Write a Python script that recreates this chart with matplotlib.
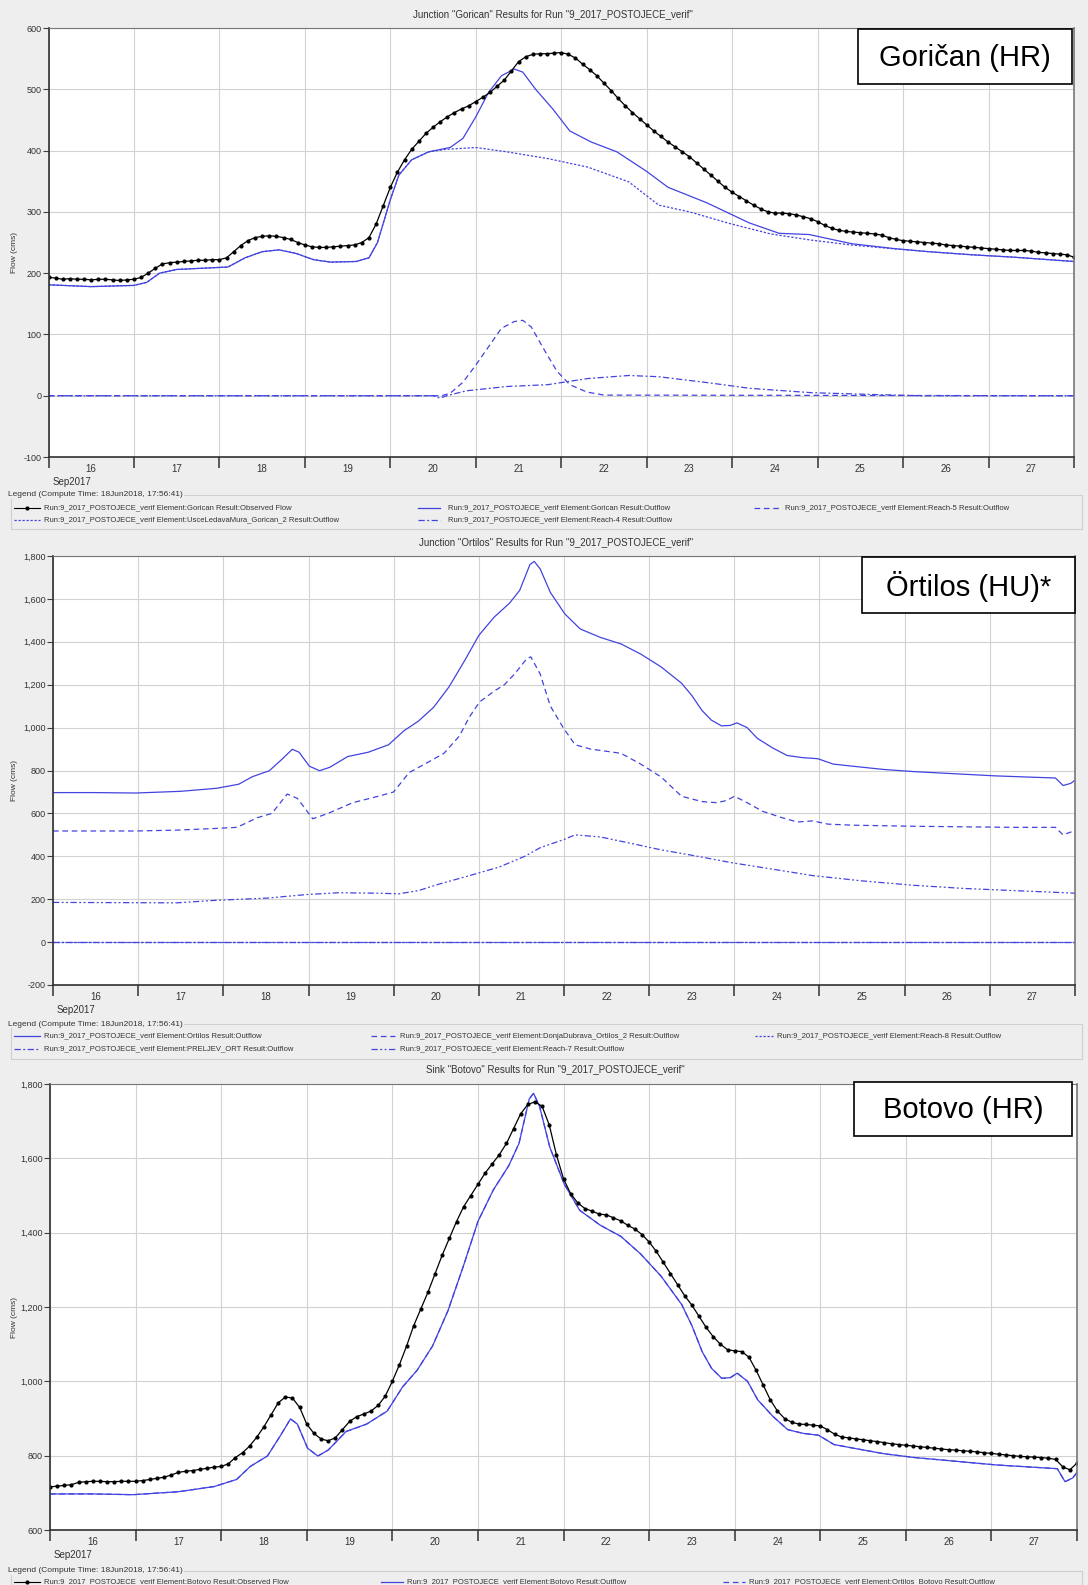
import numpy as np
import matplotlib
matplotlib.use('Agg')
import matplotlib.pyplot as plt
from matplotlib.lines import Line2D
from matplotlib.patches import Rectangle
from matplotlib.ticker import FuncFormatter

plt.rcParams['font.family'] = ['Liberation Sans', 'DejaVu Sans']

# ---------------- data ----------------
day_labels = ['16', '17', '18', '19', '20', '21', '22', '23', '24', '25', '26', '27']
month_label = 'Sep2017'
run = 'Run:9_2017_POSTOJECE_verif'

# observed series are 2-hourly, starting 16 Sep 00:00 (x in days)
obs_step = 1.0 / 12.0

gorican_obs = [
    193, 192, 190, 191, 190, 190, 189, 190, 190, 189, 188, 189,
    190, 193, 200, 208, 215, 217, 218, 219, 220, 221, 221, 222,
    222, 225, 235, 245, 253, 258, 260, 261, 260, 258, 255, 250,
    246, 243, 242, 242, 243, 244, 245, 246, 250, 258, 280, 310,
    340, 365, 385, 402, 415, 428, 438, 447, 455, 462, 468, 473,
    480, 487, 495, 505, 515, 530, 545, 553, 557, 558, 558, 559,
    560, 557, 551, 541, 532, 522, 510, 498, 485, 473, 462, 452,
    442, 432, 423, 414, 406, 398, 390, 380, 370, 360, 350, 340,
    332, 325, 318, 311, 305, 300, 298, 298, 297, 295, 292, 289,
    284, 278, 273, 270, 268, 267, 266, 265, 264, 262, 258, 255,
    253, 252, 251, 250, 249, 248, 246, 245, 244, 243, 242, 241,
    240, 239, 238, 237, 237, 237, 236, 234, 233, 232, 231, 230,
    226]

gorican_out_t = [0, 0.5, 1.0, 1.15, 1.3, 1.5, 1.8, 2.1, 2.3, 2.5, 2.7, 2.9, 3.1, 3.3, 3.6,
                 3.75, 3.85, 4.0, 4.1, 4.25, 4.45, 4.7, 4.85, 5.0, 5.15, 5.3, 5.45, 5.55,
                 5.7, 5.9, 6.1, 6.35, 6.65, 7.0, 7.25, 7.7, 8.2, 8.55, 8.9, 9.4, 9.9, 10.3,
                 10.8, 11.3, 11.7, 12.0]
gorican_out_v = [181, 178, 180, 185, 200, 206, 208, 210, 225, 235, 238, 232, 222, 218, 219,
                 225, 250, 320, 360, 385, 398, 405, 420, 455, 495, 522, 533, 528,
                 500, 468, 432, 414, 398, 366, 340, 315, 282, 265, 263, 248, 240, 235,
                 230, 226, 222, 219]

usce_t = [0, 0.5, 1.0, 1.15, 1.3, 1.5, 1.8, 2.1, 2.3, 2.5, 2.7, 2.9, 3.1, 3.3, 3.6,
          3.75, 3.85, 4.0, 4.1, 4.25, 4.45, 4.65, 5.0, 5.36, 5.84, 6.31, 6.79, 7.14, 7.5,
          7.97, 8.45, 8.92, 9.39, 9.87, 10.3, 10.8, 11.3, 11.7, 12.0]
usce_v = [181, 178, 180, 185, 200, 206, 208, 210, 225, 235, 238, 232, 222, 218, 219,
          225, 250, 320, 360, 385, 398, 402, 405, 398, 387, 373, 349, 311, 300,
          281, 264, 254, 246, 240, 235, 230, 226, 222, 219]

reach5_t = [0, 4.6, 4.7, 4.85, 5.0, 5.15, 5.3, 5.45, 5.55, 5.65, 5.8, 5.95, 6.1, 6.3, 6.5, 12.0]
reach5_v = [0, 0, 4, 22, 50, 80, 110, 121, 123, 112, 75, 40, 18, 6, 1, 0]

reach4_t = [0, 4.5, 4.58, 4.66, 4.89, 5.36, 5.84, 6.31, 6.79, 7.14, 7.73, 8.21, 8.92, 9.63, 10.2, 12.0]
reach4_v = [0, 0, -4, 0, 8, 15, 18, 28, 33, 31, 21, 12, 5, 2, 0, 0]

ortilos_t = [0, 0.5, 0.97, 1.5, 1.92, 2.18, 2.34, 2.54, 2.69, 2.81, 2.89, 3.01, 3.13, 3.25,
             3.46, 3.70, 3.94, 4.12, 4.29, 4.47, 4.65, 4.83, 5.0, 5.18, 5.36, 5.48, 5.60,
             5.65, 5.72, 5.84, 6.01, 6.19, 6.43, 6.67, 6.90, 7.14, 7.38, 7.50, 7.62, 7.73,
             7.85, 7.95, 8.03, 8.15, 8.27, 8.45, 8.62, 8.80, 8.98, 9.16, 9.39, 9.75, 10.1,
             10.58, 11.06, 11.41, 11.77, 11.86, 11.95, 12.0]
ortilos_v = [697, 697, 695, 703, 717, 736, 771, 799, 853, 899, 885, 820, 799, 815,
             865, 885, 920, 985, 1030, 1095, 1190, 1310, 1430, 1515, 1580, 1640, 1760,
             1775, 1740, 1630, 1530, 1460, 1420, 1390, 1343, 1283, 1207, 1150, 1080, 1035,
             1008, 1010, 1022, 1000, 950, 905, 870, 860, 855, 830, 820, 805, 795,
             785, 775, 770, 765, 730, 740, 755]

donja_t = [0, 0.97, 1.45, 1.92, 2.16, 2.40, 2.57, 2.75, 2.87, 3.05, 3.23, 3.52, 3.82, 4.0,
           4.18, 4.41, 4.59, 4.77, 4.89, 5.01, 5.18, 5.30, 5.42, 5.56, 5.61, 5.72, 5.84,
           5.99, 6.13, 6.31, 6.67, 6.90, 7.14, 7.38, 7.62, 7.79, 7.91, 8.0, 8.15, 8.33,
           8.56, 8.74, 8.92, 9.10, 9.39, 10.1, 11.29, 11.77, 11.86, 12.0]
donja_v = [518, 518, 522, 530, 535, 580, 600, 690, 670, 575, 600, 650, 680, 700,
           790, 840, 880, 960, 1050, 1120, 1170, 1200, 1250, 1320, 1330, 1250, 1100,
           1000, 920, 900, 880, 830, 770, 680, 655, 650, 660, 680, 650, 610,
           580, 560, 565, 550, 545, 540, 535, 535, 500, 520]

reach7_t = [0, 1.45, 1.92, 2.51, 2.99, 3.35, 3.82, 4.06, 4.29, 4.53, 4.89, 5.24, 5.54, 5.72,
            6.01, 6.13, 6.43, 6.79, 7.14, 7.5, 7.97, 8.45, 8.92, 9.51, 10.1, 10.7, 11.29,
            11.77, 12.0]
reach7_v = [185, 183, 195, 205, 222, 230, 228, 225, 240, 270, 310, 350, 400, 440,
            480, 500, 490, 460, 430, 405, 370, 340, 310, 285, 265, 250, 240,
            232, 228]

reach8_t = [0, 12.0]
reach8_v = [0, 0]
preljev_t = [0, 12.0]
preljev_v = [0, 0]

botovo_obs = [
    716, 718, 720, 722, 728, 730, 731, 731, 730, 730, 731, 731,
    731, 733, 736, 739, 742, 748, 755, 758, 760, 763, 766, 769,
    771, 778, 795, 808, 826, 850, 878, 910, 942, 958, 955, 930,
    885, 860, 845, 840, 848, 870, 892, 905, 912, 920, 935, 960,
    1000, 1045, 1095, 1150, 1195, 1240, 1290, 1340, 1385, 1430, 1470, 1500,
    1530, 1560, 1585, 1610, 1640, 1680, 1720, 1745, 1752, 1740, 1690, 1610,
    1545, 1505, 1480, 1465, 1458, 1450, 1448, 1440, 1432, 1420, 1410, 1395,
    1375, 1350, 1320, 1290, 1260, 1230, 1205, 1175, 1145, 1120, 1100, 1085,
    1082, 1080, 1065, 1030, 990, 950, 920, 900, 890, 885, 884, 882,
    880, 870, 858, 850, 848, 845, 843, 840, 838, 835, 832, 830,
    828, 826, 824, 822, 820, 818, 816, 815, 813, 812, 810, 808,
    806, 804, 802, 800, 798, 797, 796, 795, 793, 790, 770, 762,
    780]
botovo_out_t = ortilos_t
botovo_out_v = ortilos_v
ortilos_botovo_t = ortilos_t
ortilos_botovo_v = ortilos_v

# ---------------- style ----------------
W, H = 1088, 1585
BG = '#eeeeee'
BLUE = '#4343e0'
LW = 0.9
DASH = (0, (4.5, 3))
DOT = (0, (1.8, 1.4))
DASHDOT = (0, (5, 2, 1.5, 2))
DASHDOTDOT = (0, (5, 2, 1.5, 2, 1.5, 2))
MS = 2.0

fig = plt.figure(figsize=(W / 100, H / 100), dpi=100, facecolor=BG)


def make_axes(l, r, t, b, ymin, ymax, ystep):
    ax = fig.add_axes([l / W, 1 - b / H, (r - l) / W, (b - t) / H])
    ax.set_facecolor('white')
    ax.set_xlim(0, 12)
    ax.set_ylim(ymin, ymax)
    ax.set_xticks(range(13))
    ax.set_xticklabels([])
    ax.set_xticks(np.arange(12) + 0.5, minor=True)
    ax.set_xticklabels(day_labels, minor=True)
    ax.set_yticks(np.arange(ymin, ymax + 1, ystep))
    ax.yaxis.set_major_formatter(FuncFormatter(lambda v, p: f'{v:,.0f}'))
    ax.tick_params(axis='x', which='major', length=8, width=1.2, color='#404040', direction='out')
    ax.tick_params(axis='x', which='minor', length=0, pad=5, labelsize=7, labelcolor='#333333')
    ax.tick_params(axis='y', which='major', length=4, width=0.8, color='#404040', pad=1,
                   labelsize=6.5, labelcolor='#333333')
    ax.grid(True, which='major', color='#d2d2d2', lw=0.8)
    ax.set_axisbelow(True)
    for s in ['left', 'bottom']:
        ax.spines[s].set_color('#303030')
        ax.spines[s].set_linewidth(1.2)
    ax.spines['top'].set_color('#777777')
    ax.spines['top'].set_linewidth(0.8)
    ax.spines['right'].set_color('#777777')
    ax.spines['right'].set_linewidth(1.2)
    return ax


obs_t1 = np.arange(len(gorican_obs)) * obs_step
obs_t3 = np.arange(len(botovo_obs)) * obs_step

# Panel 1 - Gorican
P1 = dict(l=48.5, r=1074, t=28, b=457)
ax1 = make_axes(P1['l'], P1['r'], P1['t'], P1['b'], -100, 600, 100)
ax1.plot(reach5_t, reach5_v, color=BLUE, lw=LW, ls=DASH)
ax1.plot(reach4_t, reach4_v, color=BLUE, lw=LW, ls=DASHDOT)
ax1.plot(usce_t, usce_v, color=BLUE, lw=LW, ls=DOT)
ax1.plot(gorican_out_t, gorican_out_v, color=BLUE, lw=LW)
ax1.plot(obs_t1, gorican_obs, color='black', lw=0.9, marker='o', ms=MS)

# Panel 2 - Ortilos
P2 = dict(l=53, r=1075, t=556, b=985)
ax2 = make_axes(P2['l'], P2['r'], P2['t'], P2['b'], -200, 1800, 200)
ax2.plot(reach8_t, reach8_v, color=BLUE, lw=LW, ls=DOT)
ax2.plot(preljev_t, preljev_v, color=BLUE, lw=LW, ls=DASHDOT)
ax2.plot(reach7_t, reach7_v, color=BLUE, lw=LW, ls=DASHDOTDOT)
ax2.plot(donja_t, donja_v, color=BLUE, lw=LW, ls=DASH)
ax2.plot(ortilos_t, ortilos_v, color=BLUE, lw=LW)

# Panel 3 - Botovo
P3 = dict(l=50, r=1077, t=1084, b=1530)
ax3 = make_axes(P3['l'], P3['r'], P3['t'], P3['b'], 600, 1800, 200)
ax3.plot(ortilos_botovo_t, ortilos_botovo_v, color=BLUE, lw=LW, ls=DASH)
ax3.plot(botovo_out_t, botovo_out_v, color=BLUE, lw=LW)
ax3.plot(obs_t3, botovo_obs, color='black', lw=0.9, marker='o', ms=MS)

# ---------------- overlay (texts, legends, label boxes) ----------------
ov = fig.add_axes([0, 0, 1, 1])
ov.set_xlim(0, W)
ov.set_ylim(H, 0)
ov.axis('off')
ov.patch.set_alpha(0)

titles = [('Junction "Gorican" Results for Run "9_2017_POSTOJECE_verif"', 14, P1),
          ('Junction "Ortilos" Results for Run "9_2017_POSTOJECE_verif"', 542, P2),
          ('Sink "Botovo" Results for Run "9_2017_POSTOJECE_verif"', 1069, P3)]
for txt, y, P in titles:
    ov.text((P['l'] + P['r']) / 2 - 8, y, txt, fontsize=7, ha='center', va='center', color='#333333')
    ov.text(14, (P['t'] + P['b']) / 2 + 10, 'Flow (cms)', fontsize=6, rotation=90,
            ha='center', va='center', color='#333333')
    ov.text(P['l'] + 4, P['b'] + 25, month_label, fontsize=7, ha='left', va='center', color='#333333')


def handle(x0, x1, y, kind):
    if kind == 'obs':
        ov.add_line(Line2D([x0, x1], [y, y], color='black', lw=0.8))
        ov.add_line(Line2D([(x0 + x1) / 2], [y], color='black', marker='o', ms=MS))
    else:
        ov.add_line(Line2D([x0, x1], [y, y], color=BLUE, lw=LW, ls=kind))


def legend(top, bottom, entries):
    ov.add_patch(Rectangle((11, top), 1071, bottom - top, fill=False, ec='#cfcfcf', lw=0.8))
    ov.text(8, top, 'Legend (Compute Time: 18Jun2018, 17:56:41)', fontsize=6, ha='left',
            va='center', color='#333333', bbox=dict(fc=BG, ec='none', pad=0.6))
    for x0, x1, xt, y, kind, label in entries:
        handle(x0, x1, y, kind)
        ov.text(xt, y, label, fontsize=5.5, ha='left', va='center', color='#333333')


legend(495, 529, [
    (14, 40, 44, 508, 'obs', run + ' Element:Gorican Result:Observed Flow'),
    (418, 440, 448, 508, '-', run + ' Element:Gorican Result:Outflow'),
    (754, 780, 785, 508, DASH, run + ' Element:Reach-5 Result:Outflow'),
    (14, 40, 44, 520, DOT, run + ' Element:UsceLedavaMura_Gorican_2 Result:Outflow'),
    (418, 440, 448, 520, DASHDOT, run + ' Element:Reach-4 Result:Outflow'),
])
legend(1024, 1059, [
    (14, 40, 44, 1036, '-', run + ' Element:Ortilos Result:Outflow'),
    (371, 395, 400, 1036, DASH, run + ' Element:DonjaDubrava_Ortilos_2 Result:Outflow'),
    (755, 773, 777, 1036, DOT, run + ' Element:Reach-8 Result:Outflow'),
    (14, 40, 44, 1049, DASHDOT, run + ' Element:PRELJEV_ORT Result:Outflow'),
    (371, 395, 400, 1049, DASHDOTDOT, run + ' Element:Reach-7 Result:Outflow'),
])
legend(1571, 1600, [
    (14, 40, 44, 1582, 'obs', run + ' Element:Botovo Result:Observed Flow'),
    (381, 403, 407, 1582, '-', run + ' Element:Botovo Result:Outflow'),
    (723, 745, 749, 1582, DASH, run + ' Element:Ortilos_Botovo Result:Outflow'),
])

# station label boxes
boxes = [('Goričan (HR)', 858, 29, 1072, 84),
         ('Örtilos (HU)*', 862, 557, 1075, 613),
         ('Botovo (HR)', 854, 1082, 1072, 1136)]
for txt, x0, y0, x1, y1 in boxes:
    ov.add_patch(Rectangle((x0, y0), x1 - x0, y1 - y0, fc='white', ec='black', lw=1.2))
    ov.text((x0 + x1) / 2, (y0 + y1) / 2 + 1, txt, fontsize=21, ha='center', va='center',
            color='black', family=['Liberation Sans', 'DejaVu Sans'])

fig.savefig('out.png', dpi=100, facecolor=BG)
